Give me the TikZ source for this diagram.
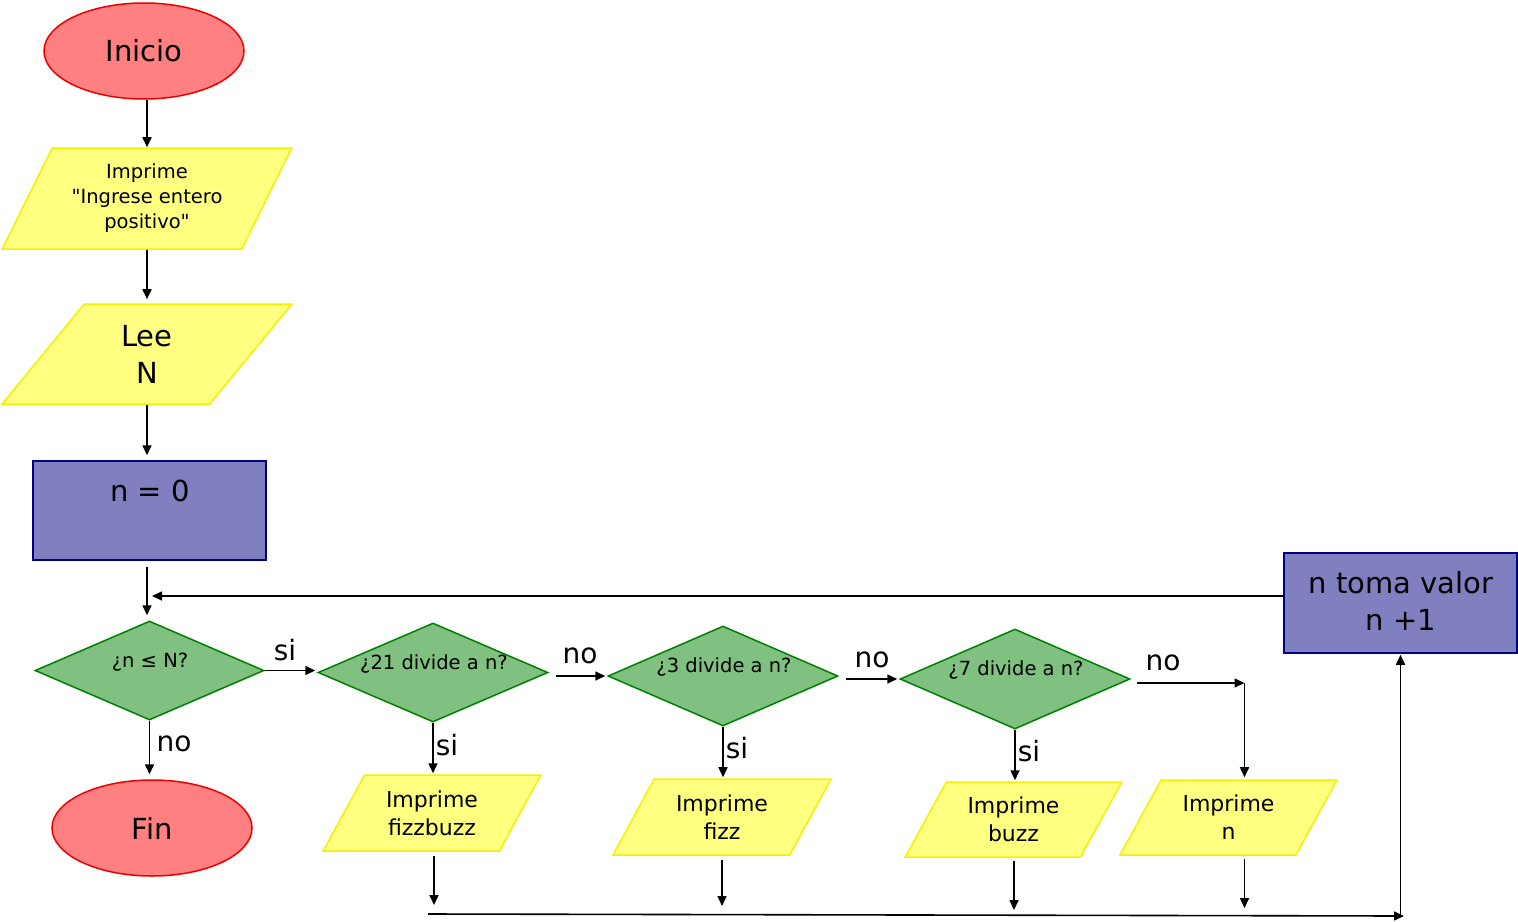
\documentclass[tikz,border=0pt]{standalone}
\usepackage{fontspec}
\setmainfont{DejaVu Sans}[Ligatures=TeXOff]
\usetikzlibrary{shapes.geometric,arrows.meta}
\definecolor{termfill}{HTML}{FF8080}
\definecolor{termdraw}{HTML}{EE0000}
\definecolor{iofill}{HTML}{FFFF80}
\definecolor{iodraw}{HTML}{F2F200}
\definecolor{procfill}{HTML}{8080C0}
\definecolor{procdraw}{HTML}{000080}
\definecolor{decfill}{HTML}{80C080}
\definecolor{decdraw}{HTML}{008000}
\tikzset{
  big/.style={font=\fontsize{29}{37}\selectfont, align=center},
  mid/.style={font=\fontsize{22}{28}\selectfont, align=center},
  small/.style={font=\fontsize{19.5}{25}\selectfont, align=center},
  lab/.style={font=\fontsize{28}{34}\selectfont, inner sep=0pt},
  term/.style={ellipse, fill=termfill, draw=termdraw, line width=1.5pt, minimum width=200pt, minimum height=96pt, inner sep=0pt, big},
  io/.style={trapezium, trapezium left angle=60, trapezium right angle=120, trapezium stretches=true, fill=iofill, draw=iodraw, line width=1.5pt, inner sep=0pt},
  proc/.style={rectangle, fill=procfill, draw=procdraw, line width=1.5pt, inner sep=0pt},
  dec/.style={diamond, fill=decfill, draw=decdraw, line width=1.5pt, inner sep=0pt},
  arr/.style={draw=black, line width=1.6pt, -{Triangle[length=10pt,width=9pt]}},
}
\begin{document}
\begin{tikzpicture}[x=1pt,y=-1pt]
\useasboundingbox (0,0) rectangle (1518,921);
% column
\node[term] (inicio) at (144,51) {Inicio};
\node[io, minimum width=290pt, minimum height=101pt, small] (p1) at (147,198.5) {Imprime\\"Ingrese entero\\positivo"};
\node[io, minimum width=290pt, minimum height=100pt, big] (p2) at (147,354) {Lee\\N};
\node[proc, minimum width=233pt, minimum height=99pt] (n0) at (149.5,510.5) {};
\node[big] (n0t) at (150,491) {n = 0};
\node[dec, minimum width=229pt, minimum height=99pt] (d1) at (149.5,670.5) {};
\node[small] (d1t) at (150,662) {¿n ≤ N?};
\node[term] (fin) at (152,828) {Fin};
% decisions
\node[dec, minimum width=230pt, minimum height=99pt] (d2) at (433,672.5) {};
\node[small] (d2t) at (434,664) {¿21 divide a n?};
\node[dec, minimum width=230pt, minimum height=100pt] (d3) at (723,676) {};
\node[small] (d3t) at (724,667) {¿3 divide a n?};
\node[dec, minimum width=230pt, minimum height=100pt] (d4) at (1015,679) {};
\node[small] (d4t) at (1016,670) {¿7 divide a n?};
% outputs
\node[io, trapezium left angle=58, trapezium right angle=122, minimum width=218pt, minimum height=76pt, mid] (b1) at (432,813) {Imprime\\fizzbuzz};
\node[io, trapezium left angle=58, trapezium right angle=122, minimum width=218pt, minimum height=76pt, mid] (b2) at (722,817) {Imprime\\fizz};
\node[io, trapezium left angle=58, trapezium right angle=122, minimum width=217pt, minimum height=75pt, mid] (b3) at (1013.5,819.5) {Imprime\\buzz};
\node[io, trapezium left angle=58, trapezium right angle=122, minimum width=217pt, minimum height=75pt, mid] (b4) at (1228.5,817.5) {Imprime\\n};
% increment
\node[proc, minimum width=233pt, minimum height=100pt] (inc) at (1400.5,603) {};
\node[big] (inct) at (1401,601) {n toma valor\\n +1};
% coordinates
\coordinate (ret) at (152,596);
\coordinate (k4) at (1244.5,683);
\coordinate (e1) at (434,905);
\coordinate (e2) at (722,906);
\coordinate (e3) at (1014,910);
\coordinate (e4) at (1244.5,908);
\coordinate (bl) at (428,914);
\coordinate (br) at (1404,916);
% connectors
\draw[arr] (p1.north |- inicio.south) -- (p1.north);
\draw[arr, shorten >=4pt] (p1.south) -- (p2.north);
\draw[arr, shorten >=5pt] (p2.south) -- (p2.south |- n0.north);
\draw[arr, shorten <=6pt, shorten >=5pt] (n0.south -| p2.south) -- (p2.south |- d1.north);
\draw[arr] ([yshift=7pt]inc.west) -- (ret);
\draw[arr, shorten >=2pt] (d1.east) -- (d1.east -| d2.west);
\node[lab] (l1) at (285,650) {si};
\draw[arr, shorten <=7pt, shorten >=2pt] (d2.east |- d3.west) -- (d3.west);
\node[lab] (l2) at (580,656) {no};
\draw[arr, shorten <=7pt, shorten >=2pt] (d3.east |- d4.west) -- (d4.west);
\node[lab] (l3) at (872,660) {no};
\draw[arr, shorten <=6pt] (d4.east |- k4) -- (k4);
\node[lab] (l4) at (1163,663) {no};
\draw[arr, shorten >=2pt] (k4) -- (k4 |- b4.north);
\draw[arr, shorten >=5pt] (d1.south) -- (d1.south |- fin.north);
\node[lab] (l5) at (174,744) {no};
\draw[arr, shorten >=1pt] (d2.south) -- (d2.south |- b1.north);
\node[lab] (l6) at (447,745) {si};
\draw[arr, shorten >=1pt] (d3.south) -- (d3.south |- b2.north);
\node[lab] (l7) at (737,748) {si};
\draw[arr, shorten >=1pt] (d4.south) -- (d4.south |- b3.north);
\node[lab] (l8) at (1029,751) {si};
\draw[arr, shorten <=4pt] (e1 |- b1.south) -- (e1);
\draw[arr, shorten <=4pt] (e2 |- b2.south) -- (e2);
\draw[arr, shorten <=3pt] (e3 |- b3.south) -- (e3);
\draw[arr, shorten <=3pt] (e4 |- b4.south) -- (e4);
\draw[arr] (bl) -- (br);
\draw[arr, shorten >=1pt] (inc.south |- br) -- (inc.south);
\end{tikzpicture}
\end{document}
